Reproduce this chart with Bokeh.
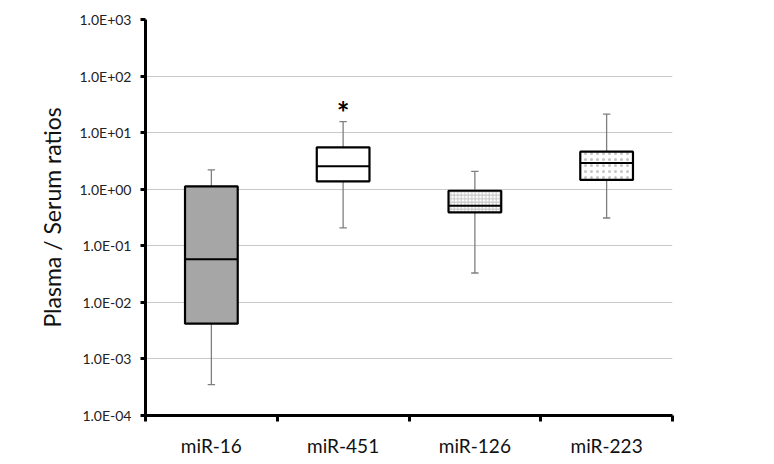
from bokeh.plotting import figure
from bokeh.models import FixedTicker, CustomJSTickFormatter, ColumnDataSource, Range1d
from bokeh.core.properties import value
from bokeh.embed import file_html
from bokeh.resources import INLINE

categories = ["miR-16", "miR-451", "miR-126", "miR-223"]
whisker_low = [0.00035, 0.207, 0.033, 0.31]
q1 = [0.0042, 1.38, 0.39, 1.46]
median = [0.058, 2.54, 0.51, 2.9]
q3 = [1.12, 5.5, 0.94, 4.6]
whisker_high = [2.2, 15.6, 2.07, 21.3]
fills = ["#a6a6a6", "#ffffff", "#ffffff", "#ffffff"]
hatches = [" ", " ", "cross", "dot"]
hatch_scales = [1, 1, 3.5, 6]
y_ticks = [1e-4, 1e-3, 1e-2, 1e-1, 1e0, 1e1, 1e2, 1e3]
significance = ["", "*", "", ""]
star_y = [None, 23.0, None, None]

FONT = "Lato"

xs = [i + 0.5 for i in range(len(categories))]

p = figure(width=764, height=459, output_backend="svg", toolbar_location=None,
           y_axis_type="log", x_range=Range1d(0, len(categories)),
           y_range=Range1d(y_ticks[0], y_ticks[-1]),
           min_border_left=145, min_border_right=92, min_border_top=19, min_border_bottom=43)
p.outline_line_color = None
p.background_fill_color = "white"

# grid
p.xgrid.grid_line_color = None
p.ygrid.grid_line_color = "#c8c8c8"
p.ygrid.grid_line_width = 1
p.ygrid.ticker = FixedTicker(ticks=y_ticks)

# y axis
p.yaxis.ticker = FixedTicker(ticks=y_ticks)
p.yaxis.formatter = CustomJSTickFormatter(code="""
const e = Math.round(Math.log10(tick));
const s = e < 0 ? '-' : '+';
const a = Math.abs(e);
return '1.0E' + s + (a < 10 ? '0' : '') + a;
""")
p.yaxis.axis_line_width = 3
p.yaxis.axis_line_color = "black"
p.yaxis.major_tick_line_width = 3
p.yaxis.major_tick_out = 5
p.yaxis.major_tick_in = 0
p.yaxis.minor_tick_line_color = None
p.yaxis.major_label_text_font = FONT
p.yaxis.major_label_text_font_size = "14px"
p.yaxis.major_label_text_color = "#222222"
p.yaxis.major_label_standoff = 9
p.yaxis.axis_label = "Plasma / Serum ratios"
p.yaxis.axis_label_text_font = FONT
p.yaxis.axis_label_text_font_style = "normal"
p.yaxis.axis_label_text_font_size = "23px"
p.yaxis.axis_label_text_color = "#111111"
p.yaxis.axis_label_standoff = 11

# x axis: labels at centers, ticks at boundaries (as minor ticks)
p.xaxis.ticker = FixedTicker(ticks=xs, minor_ticks=list(range(len(categories) + 1)))
p.xaxis.major_label_overrides = {x: c for x, c in zip(xs, categories)}
p.xaxis.major_tick_line_color = None
p.xaxis.major_tick_out = 0
p.xaxis.major_tick_in = 0
p.xaxis.minor_tick_line_color = "black"
p.xaxis.minor_tick_line_width = 3
p.xaxis.minor_tick_out = 6
p.xaxis.minor_tick_in = 0
p.xaxis.axis_line_width = 3
p.xaxis.axis_line_color = "black"
p.xaxis.major_label_text_font = FONT
p.xaxis.major_label_text_font_size = "19px"
p.xaxis.major_label_text_color = "#111111"
p.xaxis.major_label_standoff = 12

src = ColumnDataSource(dict(x=xs, lo=whisker_low, q1=q1, med=median, q3=q3, hi=whisker_high,
                            fill=fills, hatch=hatches, hs=hatch_scales,
                            cl=[x - 0.028 for x in xs], cr=[x + 0.028 for x in xs],
                            bl=[x - 0.2 for x in xs], br=[x + 0.2 for x in xs]))

# whiskers
p.segment(x0="x", y0="lo", x1="x", y1="hi", source=src, line_color="#7f7f7f", line_width=1.3)
p.segment(x0="cl", y0="lo", x1="cr", y1="lo", source=src, line_color="#7f7f7f", line_width=1.3)
p.segment(x0="cl", y0="hi", x1="cr", y1="hi", source=src, line_color="#7f7f7f", line_width=1.3)

# boxes
p.vbar(x="x", width=0.4, bottom="q1", top="q3", source=src, fill_color="fill",
       line_color="black", line_width=2.2,
       hatch_pattern="hatch", hatch_color="#c4c4c4", hatch_scale="hs", hatch_weight=1)
# medians
p.segment(x0="bl", y0="med", x1="br", y1="med", source=src, line_color="black", line_width=2)

# significance star
sx = [x for x, s in zip(xs, significance) if s]
sy = [y for y, s in zip(star_y, significance) if s]
st = [s for s in significance if s]
p.text(x=sx, y=sy, text=st, text_align="center", text_baseline="middle",
       text_font=value(FONT), text_font_size="30px", text_font_style="bold", text_color="black")

open("out.html", "w").write(file_html(p, INLINE))
